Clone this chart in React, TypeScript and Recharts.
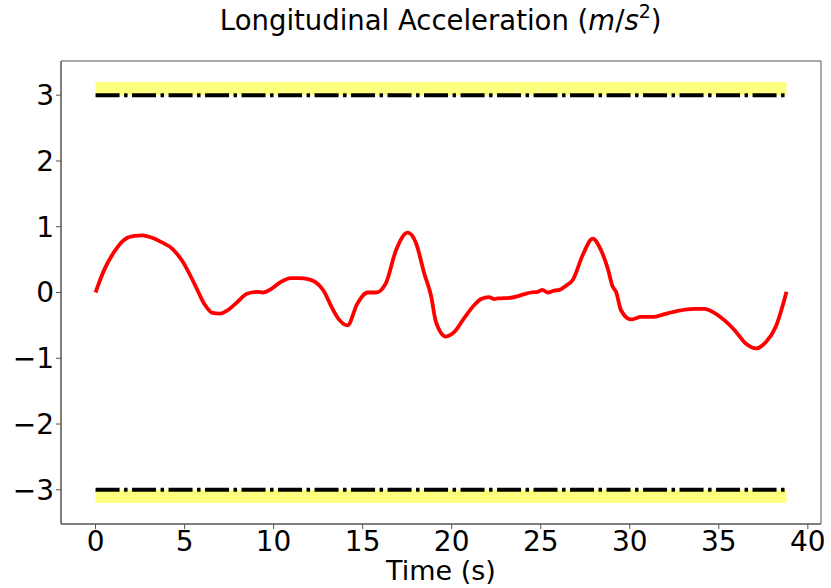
import React from "react";
import {
  LineChart,
  Line,
  XAxis,
  YAxis,
  ReferenceArea,
  ReferenceLine,
} from "recharts";

const timeS: number[] = [
  0, 0.48, 1.05, 1.6, 2.17, 2.64, 3.1, 3.67, 4.33, 4.89, 5.54, 6.1, 6.57, 7.0,
  7.4, 7.98, 8.5, 9.1, 9.4, 9.85, 10.4, 10.97, 11.4, 12.0, 12.56, 12.84, 13.2,
  13.7, 14.15, 14.7, 15.28, 15.75, 16.3, 16.87, 17.53, 18.0, 18.46, 18.84,
  19.12, 19.68, 20.15, 20.7, 21.27, 21.65, 22.1, 22.4, 22.58, 23.33, 23.9,
  24.45, 24.83, 25.1, 25.4, 25.76, 26.05, 26.4, 26.8, 27.36, 27.92, 28.39,
  28.76, 29.04, 29.23, 29.51, 30.07, 30.63, 31.38, 31.94, 32.7, 33.63, 34.19,
  34.75, 35.31, 35.88, 36.53, 37.1, 37.66, 38.2, 38.8,
];

const accel: number[] = [
  0, 0.34, 0.62, 0.8, 0.86, 0.87, 0.84, 0.77, 0.66, 0.47, 0.14, -0.17, -0.31,
  -0.32, -0.27, -0.14, -0.02, 0.01, 0, 0.05, 0.16, 0.22, 0.22, 0.2, 0.11, 0.01,
  -0.19, -0.42, -0.5, -0.17, 0, 0, 0.14, 0.64, 0.91, 0.75, 0.29, -0.05, -0.45,
  -0.67, -0.6, -0.39, -0.19, -0.1, -0.07, -0.1, -0.09, -0.08, -0.04, 0, 0.01,
  0.04, 0, 0.03, 0.04, 0.1, 0.19, 0.57, 0.82, 0.64, 0.37, 0.09, 0.01, -0.27,
  -0.41, -0.37, -0.37, -0.33, -0.28, -0.25, -0.25, -0.31, -0.42, -0.57, -0.78,
  -0.85, -0.75, -0.52, 0.01,
];

const xTicks = [0, 5, 10, 15, 20, 25, 30, 35, 40];
const yTicks = [-3, -2, -1, 0, 1, 2, 3];

// comfort limits and the tolerance band outside them
const upperLimit = 3;
const lowerLimit = -3;
const bandWidth = 0.2;
const tEnd = 38.8;

const data = timeS.map((t, i) => ({ t, a: accel[i] }));

const FONT = "DejaVu Sans";
const frameColor = "#555";
const dashDot = "24 4.5 3.5 4.5";

const minus = (v: number) => String(v).replace("-", "\u2212");

export default function App() {
  return (
    <div style={{ position: "absolute", left: 0, top: 0, width: 831, height: 588, background: "#fff" }}>
      <svg width={831} height={60} style={{ position: "absolute", left: 0, top: 0 }}>
        <text x={440.7} y={30} textAnchor="middle" fontFamily={FONT} fontSize={27.5} fill="#000">
          Longitudinal Acceleration (
          <tspan fontStyle="italic">m</tspan>/<tspan fontStyle="italic">s</tspan>
          <tspan fontSize={19} dy={-12}>2</tspan>
          <tspan dy={12}>)</tspan>
        </text>
      </svg>
      <LineChart
        width={831}
        height={588}
        data={data}
        margin={{ top: 61, right: 10, bottom: 0, left: 0 }}
        style={{ fontFamily: FONT }}
      >
        <XAxis
          dataKey="t"
          type="number"
          domain={[-1.94, 40.74]}
          allowDataOverflow
          ticks={xTicks}
          height={64}
          tickSize={5}
          tick={{ fontSize: 28, fill: "#000" }}
          stroke={frameColor}
          label={{ value: "Time (s)", position: "insideBottom", offset: 8, fontSize: 27, fill: "#000" }}
        />
        <YAxis
          type="number"
          domain={[-3.52, 3.52]}
          allowDataOverflow
          ticks={yTicks}
          width={61}
          tickSize={5}
          tickFormatter={minus}
          tick={{ fontSize: 28, fill: "#000" }}
          stroke={frameColor}
        />
        <ReferenceArea x1={-1.94} x2={40.74} y1={-3.52} y2={3.52} fill="none" stroke={frameColor} strokeWidth={1} />
        <ReferenceArea x1={0} x2={tEnd} y1={upperLimit} y2={upperLimit + bandWidth} fill="#ffff00" fillOpacity={0.5} stroke="none" />
        <ReferenceArea x1={0} x2={tEnd} y1={lowerLimit - bandWidth} y2={lowerLimit} fill="#ffff00" fillOpacity={0.5} stroke="none" />
        <ReferenceLine
          segment={[{ x: 0, y: upperLimit }, { x: tEnd, y: upperLimit }]}
          stroke="#000"
          strokeWidth={4}
          strokeDasharray={dashDot}
        />
        <ReferenceLine
          segment={[{ x: 0, y: lowerLimit }, { x: tEnd, y: lowerLimit }]}
          stroke="#000"
          strokeWidth={4}
          strokeDasharray={dashDot}
        />
        <Line
          dataKey="a"
          type="monotone"
          stroke="#ff0000"
          strokeWidth={3.8}
          dot={false}
          isAnimationActive={false}
        />
      </LineChart>
    </div>
  );
}
